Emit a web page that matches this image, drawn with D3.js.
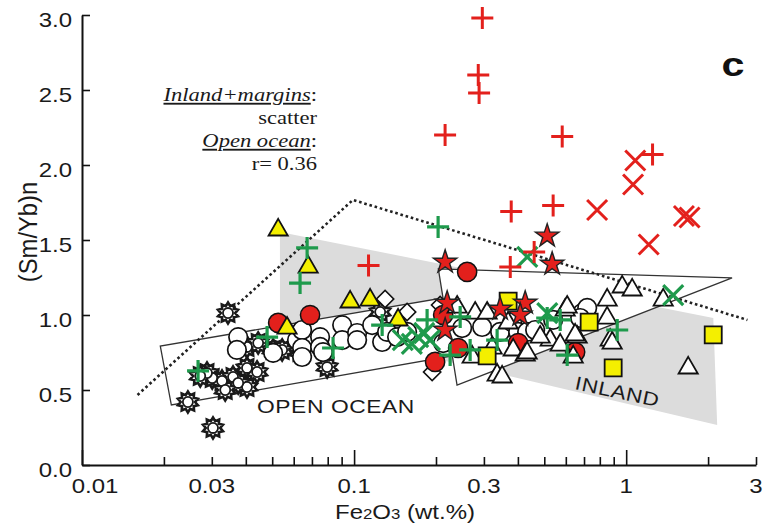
<!DOCTYPE html>
<html>
<head>
<meta charset="utf-8">
<script src="https://cdn.jsdelivr.net/npm/d3@7/dist/d3.min.js"></script>
<style>
  body { margin: 0; background: #fff; }
  text { font-family: "Liberation Sans", Arial, sans-serif; fill: #1a1a1a; }
</style>
</head>
<body>
<div id="chart"></div>
<script>
// ---- data: [Fe2O3 wt.%, (Sm/Yb)n] ----
var xTickLabels = [0.01, 0.03, 0.1, 0.3, 1, 3];
var yTicks = [0, 0.5, 1.0, 1.5, 2.0, 2.5, 3.0];

var greyZone     = [[0.0534, 1.553], [2.09, 0.98], [2.16, 0.267], [0.0534, 0.953]];
var openOceanBox = [[0.0194, 0.793], [0.0213, 0.40], [0.229, 0.727], [0.211, 1.113]];
var inlandBox    = [[0.204, 1.307], [2.45, 1.247], [0.239, 0.533]];
var trendLine    = [[0.016, 0.467], [0.099, 1.767], [2.79, 0.967]];

var sunStars = [[0.0344,1.013],[0.0404,0.787],[0.0444,0.813],[0.0504,0.767],[0.0544,0.767],[0.0633,0.753],
  [0.0301,0.58],[0.0327,0.56],[0.0359,0.587],[0.0404,0.647],[0.044,0.62],[0.0404,0.52],[0.0375,0.547],
  [0.0336,0.50],[0.0288,0.613],[0.0272,0.593],[0.0245,0.42],[0.0303,0.247],[0.0796,0.653],[0.1247,1.02]];

var whiteDots = [[0.0375,0.853],[0.0371,0.767],[0.0504,0.747],[0.0617,0.833],[0.0644,0.90],[0.0644,0.78],
  [0.0644,0.72],[0.075,0.853],[0.075,0.787],[0.0769,0.753],[0.0904,0.933],[0.0904,0.833],[0.1026,0.88],
  [0.1026,0.833],[0.1165,0.933],[0.1268,0.82],[0.1322,0.887],[0.1439,0.853],[0.1566,0.887],[0.2125,0.813],
  [0.2496,0.913],[0.2955,0.92],[0.3441,0.887],[0.381,0.953],[0.4008,0.887],[0.4325,0.887],[0.4628,0.90],
  [0.539,0.967],[0.689,1.013],[0.719,1.047],[0.6774,0.98]];

var whiteDiamonds = [[0.130,1.107],[0.1566,1.02],[0.1936,0.62],[0.2071,1.067]];

var redDots = [[0.0526,0.947],[0.0689,1.0],[0.2603,1.287],[0.1985,0.687],[0.2412,0.78],[0.4008,0.813],
  [0.2125,1.0],[0.6493,0.753]];

var yellowTri = [[0.0526,1.567],[0.0678,1.32],[0.0967,1.087],[0.1145,1.10],[0.0567,0.913],[0.1451,0.967]];

var whiteTri = [[0.2392,1.053],[0.2786,1.013],[0.3083,1.013],[0.2716,0.72],[0.3355,0.60],[0.3216,0.78],
  [0.3843,0.767],[0.4254,0.733],[0.3683,0.947],[0.5256,0.833],[0.5967,1.033],[0.6605,0.853],[0.6387,0.72],
  [0.8514,1.10],[0.8514,0.98],[0.8734,0.833],[0.9667,1.187],[1.052,1.167],[1.368,1.10],[0.8882,0.813],
  [0.6069,1.053],[0.6493,0.867],[1.69,0.647],[0.4325,0.747],[0.35,0.587],[0.5721,0.80],[0.4829,0.853]];

var yellowSq = [[0.3683,1.093],[0.7311,0.953],[0.3083,0.727],[0.8957,0.647],[2.089,0.867]];

var redStars = [[0.2161,1.353],[0.5125,1.527],[0.5345,1.34],[0.2198,1.08],[0.2161,0.90],[0.4254,1.08],
  [0.4077,1.0],[0.3441,1.04]];

var greenCross = [[0.433,1.387],[1.489,1.133],[0.513,1.013],[0.151,0.833],[0.163,0.807],[0.172,0.853],
  [0.181,0.88],[0.190,0.833]];

var greenPlus = [[0.0672,1.447],[0.0633,1.213],[0.2036,1.587],[0.0267,0.627],[0.0479,0.853],[0.0837,0.78],
  [0.1268,0.933],[0.1855,0.967],[0.2454,0.987],[0.267,0.767],[0.3355,0.833],[0.5125,0.98],[0.572,0.967],
  [0.607,0.733],[0.927,0.90],[0.2254,0.733]];

var redPlus = [[0.296,2.98],[0.286,2.60],[0.288,2.48],[0.216,2.20],[0.582,2.19],[1.25,2.07],[0.378,1.69],
  [0.539,1.73],[0.375,1.32],[0.113,1.33],[0.459,1.42]];

var redCross = [[1.08,2.03],[1.06,1.87],[0.782,1.70],[1.63,1.66],[1.71,1.65],[1.21,1.47]];

// ---- setup ----
var svg_dx = 763, svg_dy = 529, sx = 1.2;
var red = "#e3201c", green = "#1e9a4c", yellow = "#f4ef00";

var x = d3.scaleLog().domain([0.01, 3]).range([82, 756]);
var y = d3.scaleLinear().domain([0, 3]).range([465, 15]);

var svg = d3.select("#chart").append("svg")
    .attr("width", svg_dx)
    .attr("height", svg_dy);

var line = d3.line().x(d => x(d[0])).y(d => y(d[1]));

// shaded inland field
svg.append("path").datum(greyZone)
   .attr("d", d => line(d) + "Z")
   .style("fill", "#dcdcdc");

// outlined fields
[openOceanBox, inlandBox].forEach(function(p) {
  svg.append("path").datum(p)
     .attr("d", d => line(d) + "Z")
     .style("fill", "#fff")
     .style("stroke", "#333")
     .style("stroke-width", 1.3);
});

svg.append("path").datum(trendLine)
   .attr("d", line)
   .style("fill", "none")
   .style("stroke", "#222")
   .style("stroke-width", 2.6)
   .style("stroke-dasharray", "2.6,2.8");

// ---- axes ----
svg.append("g")
   .attr("transform", "translate(0,465)")
   .call(d3.axisBottom(x).tickValues(x.ticks()).tickSize(-8).tickSizeOuter(0).tickFormat(""))
   .call(g => g.selectAll(".tick line")
               .filter(d => Math.abs(Math.log10(d) - Math.round(Math.log10(d))) < 1e-6)
               .attr("y2", -15));

svg.append("g")
   .attr("transform", "translate(82,0)")
   .call(d3.axisLeft(y).tickValues(yTicks).tickSize(-8).tickSizeOuter(0).tickFormat(""));

svg.selectAll(".domain").style("stroke", "#111").style("stroke-width", 2);
svg.selectAll(".tick line").style("stroke", "#111").style("stroke-width", 1.6);

svg.append("g").selectAll("text")
   .data(yTicks).enter().append("text")
   .attr("text-anchor", "end")
   .attr("transform", d => "translate(72," + (y(d) + 12) + ") scale(" + sx + ",1)")
   .style("font-size", "20px")
   .text(d => d.toFixed(1));

svg.append("g").selectAll("text")
   .data(xTickLabels).enter().append("text")
   .attr("text-anchor", "middle")
   .attr("transform", (d, i) => "translate(" + (x(d) + (i == 0 ? 13 : 0)) + ",493) scale(" + sx + ",1)")
   .style("font-size", "20px")
   .text(d => d);

// axis titles
svg.append("text")
   .attr("text-anchor", "middle")
   .attr("transform", "translate(37,232) rotate(-90) scale(1.08,1.2)")
   .style("font-size", "22px")
   .text("(Sm/Yb)n");

var xt = svg.append("text")
   .attr("text-anchor", "middle")
   .attr("transform", "translate(405,519) scale(" + sx + ",1)")
   .style("font-size", "20px");
xt.append("tspan").text("Fe");
xt.append("tspan").style("font-size", "14px").text("2");
xt.append("tspan").text("O");
xt.append("tspan").style("font-size", "14px").text("3");
xt.append("tspan").text(" (wt.%)");

// ---- annotations ----
var notes = [["Inland+margins", ":", 101, true], ["scatter", "", 124, false],
             ["Open ocean", ":", 147, true], ["r= 0.36", "", 170, false]];
notes.forEach(function(n) {
  var t = svg.append("text")
     .attr("text-anchor", "end")
     .attr("transform", "translate(317," + n[2] + ") scale(1.22,1)")
     .style("font-family", "'Liberation Serif', 'Times New Roman', serif")
     .style("font-size", "18.5px");
  t.append("tspan")
   .style("font-style", n[3] ? "italic" : "normal")
   .style("text-decoration", n[3] ? "underline" : "none")
   .text(n[0]);
  t.append("tspan").text(n[1]);
});

svg.append("text")
   .attr("text-anchor", "middle")
   .attr("transform", "translate(733,76) scale(1.25,1)")
   .style("font-size", "33px")
   .style("font-weight", "900")
   .style("fill", "#111")
   .text("c");

svg.append("text")
   .attr("transform", "translate(257,413) scale(" + sx + ",1)")
   .style("font-size", "19px")
   .style("letter-spacing", "0.5px")
   .text("OPEN OCEAN");

svg.append("text")
   .attr("text-anchor", "middle")
   .attr("transform", "translate(616,398) rotate(12) scale(1.18,1)")
   .style("font-size", "19px")
   .style("letter-spacing", "0.5px")
   .text("INLAND");

// ---- markers ----
function sunPath(n, R, r) {
  var pts = d3.range(n * 2).map(function(i) {
    var a = i * Math.PI / n - Math.PI / 2, rr = i % 2 ? r : R;
    return [rr * Math.cos(a), rr * Math.sin(a)];
  });
  return "M" + pts.join("L") + "Z";
}

function drawSeries(data, d, fill, stroke, sw, rot) {
  svg.append("g").selectAll("path")
     .data(data).enter().append("path")
     .attr("transform", p => "translate(" + x(p[0]) + "," + y(p[1]) + ")" + (rot ? " rotate(" + rot + ")" : ""))
     .attr("d", d)
     .style("fill", fill)
     .style("stroke", stroke)
     .style("stroke-width", sw);
}

var sun = sunPath(10, 10.5, 7.2);
drawSeries(sunStars, sun, "#fff", "#1a1a1a", 2.6);
drawSeries(sunStars, d3.symbol().type(d3.symbolCircle).size(80)(), "#fff", "#1a1a1a", 1.8);
drawSeries(whiteDots, d3.symbol().type(d3.symbolCircle).size(270)(), "#fff", "#111", 1.7);
drawSeries(whiteDiamonds, d3.symbol().type(d3.symbolSquare).size(150)(), "#fff", "#111", 1.6, 45);
drawSeries(redDots, d3.symbol().type(d3.symbolCircle).size(290)(), red, "#111", 1.5);
drawSeries(yellowTri, d3.symbol().type(d3.symbolTriangle).size(160)(), yellow, "#111", 1.8);
drawSeries(whiteTri, d3.symbol().type(d3.symbolTriangle).size(160)(), "#fff", "#111", 1.8);
drawSeries(yellowSq, d3.symbol().type(d3.symbolSquare).size(290)(), yellow, "#111", 1.8);
drawSeries(redStars, d3.symbol().type(d3.symbolStar).size(170)(), red, "#222", 1.4);

var plus = "M-11,0H11M0,-11V11";
var cross = "M-10,-10L10,10M-10,10L10,-10";
drawSeries(greenCross, cross, "none", green, 3.2);
drawSeries(greenPlus, plus, "none", green, 3.2);
drawSeries(redPlus, plus, "none", red, 3);
drawSeries(redCross, cross, "none", red, 3);
</script>
</body>
</html>
